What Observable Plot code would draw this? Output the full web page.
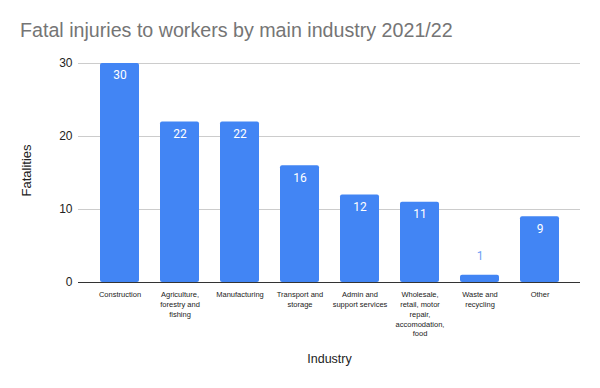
<!DOCTYPE html>
<html>
<head>
<meta charset="utf-8">
<script src="https://cdn.jsdelivr.net/npm/d3@7"></script>
<script src="https://cdn.jsdelivr.net/npm/@observablehq/plot@0.6"></script>
<style>
  html, body { margin: 0; padding: 0; background: #fff; }
  #wrap { width: 600px; height: 388px; overflow: hidden; }
  #title { height: 50px; position: relative; font-family: "Liberation Sans", Arial, sans-serif; }
  #title span { position: absolute; left: 20px; top: 19px; font-size: 19.5px; color: #757575; white-space: nowrap; }
</style>
</head>
<body>
<div id="wrap">
  <div id="title"><span id="titleText">Fatal injuries to workers by main industry 2021/22</span></div>
  <div id="chart"></div>
</div>
<script>
const categories = ["Construction", "Agriculture", "Manufacturing", "Transport", "Admin", "Wholesale", "Waste", "Other"];
const tickLabels = [
  "Construction",
  "Agriculture,\nforestry and\nfishing",
  "Manufacturing",
  "Transport and\nstorage",
  "Admin and\nsupport services",
  "Wholesale,\nretail, motor\nrepair,\naccomodation,\nfood",
  "Waste and\nrecycling",
  "Other"
];
const fatalities = [30, 22, 22, 16, 12, 11, 1, 9];
const yTicks = [0, 10, 20, 30];

const data = categories.map((c, i) => ({cat: c, label: tickLabels[i], value: fatalities[i]}));
const inside = data.filter(d => d.value >= 3);
const outside = data.filter(d => d.value < 3);

const font = "'Liberation Sans', Arial, sans-serif";
const valueFont = "Roboto, 'Liberation Sans', Arial, sans-serif";

// fit title width to the reference (~433px)
(function () {
  const el = document.getElementById("titleText");
  const ctx = document.createElement("canvas").getContext("2d");
  ctx.font = "20px 'Liberation Sans', Arial, sans-serif";
  const w = ctx.measureText(el.textContent).width;
  if (w > 0) el.style.fontSize = Math.max(18, Math.min(21, 20 * 433 / w)) + "px";
})();

const chart = Plot.plot({
  width: 600,
  height: 338,
  marginLeft: 78,
  marginRight: 20,
  marginTop: 13,
  marginBottom: 106,
  style: {fontFamily: font, background: "#fff"},
  x: {domain: categories, paddingInner: 0.35, paddingOuter: 0.175, insetLeft: 11.5, insetRight: 10.5, axis: null},
  y: {domain: [0, 30], axis: null},
  marks: [
    Plot.ruleY(yTicks.filter(t => t > 0), {stroke: "#cccccc", strokeWidth: 1}),
    Plot.barY(data, {x: "cat", y: "value", fill: "#4285f4", rx: 2}),
    Plot.ruleY([0], {stroke: "#333333", strokeWidth: 1}),
    Plot.axisY(yTicks, {tickSize: 0, tickPadding: 6, fontSize: 12, fill: "#222222", label: null}),
    Plot.text(inside, {x: "cat", y: "value", text: d => String(d.value), dy: 12, fill: "#ffffff", fontSize: 12, fontFamily: valueFont, lineAnchor: "middle"}),
    Plot.text(outside, {x: "cat", y: "value", text: d => String(d.value), dy: -19, fill: "#6f9ff5", fontSize: 12, fontFamily: valueFont, lineAnchor: "middle"}),
    Plot.text(data, {x: "cat", y: () => 0, text: "label", lineAnchor: "top", dy: 7, fontSize: 7.5, lineHeight: 1.33, fill: "#222222"}),
    Plot.text(["Fatalities"], {frameAnchor: "left", dx: -52, dy: 23.5, rotate: -90, fontSize: 13, fill: "#222222"}),
    Plot.text(["Industry"], {frameAnchor: "bottom", dy: 80, fontSize: 12.5, fill: "#222222"})
  ]
});
document.getElementById("chart").appendChild(chart);
</script>
</body>
</html>
